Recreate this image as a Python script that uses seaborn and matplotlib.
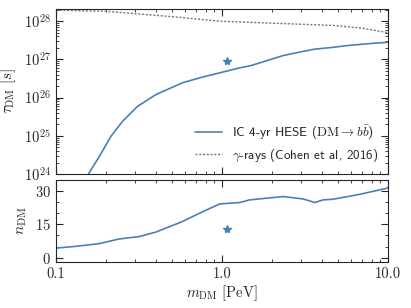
import matplotlib
matplotlib.use("Agg")
import matplotlib.pyplot as plt
import numpy as np
import pandas as pd
import seaborn as sns
from matplotlib.ticker import MultipleLocator, FixedFormatter, FixedLocator, LogLocator, NullFormatter

BLUE = "#4a80b8"
GREY = "#777777"

# IceCube 4-yr HESE lifetime limit (log10 tau / s)
mass_ic = [0.157, 0.185, 0.214, 0.252, 0.31, 0.40, 0.58, 0.766, 1.06, 1.25,
           1.5, 2.33, 3.0, 3.63, 4.5, 5.9, 7.5, 10.0]
log_tau_ic = [24.0, 24.5, 24.98, 25.38, 25.77, 26.08, 26.39, 26.54, 26.69, 26.77,
              26.84, 27.1, 27.2, 27.27, 27.31, 27.37, 27.41, 27.45]

# gamma-ray limit (Cohen et al. 2016)
mass_gamma = [0.1, 0.2, 0.5, 0.98, 2.0, 4.7, 7.0, 10.0]
log_tau_gamma = [28.29, 28.26, 28.12, 28.0, 27.95, 27.89, 27.82, 27.7]

# number of DM events
mass_n = [0.1, 0.132, 0.182, 0.24, 0.318, 0.40, 0.58, 0.766, 0.973, 1.28, 1.47,
          2.34, 3.09, 3.63, 4.07, 4.68, 6.77, 9.8, 10.0]
n_dm = [4.3, 5.1, 6.3, 8.4, 9.5, 11.5, 16.3, 20.7, 24.2, 24.8, 26.0,
        27.5, 26.4, 24.8, 26.0, 26.3, 28.5, 31.2, 31.5]

# best-fit point
star_mass = [1.07]
star_tau = [9e26]
star_n = [13.0]

sns.set_style("ticks")
plt.rcParams["font.family"] = ["cmr10", "DejaVu Serif"]
plt.rcParams["mathtext.fontset"] = "cm"
plt.rcParams["axes.formatter.use_mathtext"] = True
plt.rcParams["font.size"] = 10
plt.rcParams["axes.unicode_minus"] = False

fig = plt.figure(figsize=(4.11, 3.08), dpi=100)
ax1 = fig.add_axes([0.136, 0.435, 0.808, 0.536])
ax2 = fig.add_axes([0.136, 0.149, 0.808, 0.267])

ic = pd.DataFrame({"m": mass_ic, "tau": 10 ** np.array(log_tau_ic)})
gam = pd.DataFrame({"m": mass_gamma, "tau": 10 ** np.array(log_tau_gamma)})
nd = pd.DataFrame({"m": mass_n, "n": n_dm})

sns.lineplot(data=ic, x="m", y="tau", ax=ax1, color=BLUE, lw=1.2,
             label=r"IC 4-yr HESE ($\mathrm{DM} \rightarrow b\bar{b}$)")
sns.lineplot(data=gam, x="m", y="tau", ax=ax1, color=GREY, lw=1.0, ls=(0, (1.5, 1.2)),
             label=r"$\gamma$-rays (Cohen et al, 2016)")
ax1.plot(star_mass, star_tau, marker="*", color=BLUE, ms=6, ls="none")

sns.lineplot(data=nd, x="m", y="n", ax=ax2, color=BLUE, lw=1.2)
ax2.plot(star_mass, star_n, marker="*", color=BLUE, ms=6, ls="none")

for ax in (ax1, ax2):
    ax.set_xscale("log")
    ax.set_xlim(0.1, 10)
    ax.tick_params(which="both", direction="in", top=True, right=True)
    ax.tick_params(which="major", length=5, labelsize=10.5)
    ax.tick_params(which="minor", length=2.5)
    for s in ax.spines.values():
        s.set_linewidth(0.8)

ax1.set_yscale("log")
ax1.set_ylim(1e24, 2.1e28)
ax1.yaxis.set_major_locator(LogLocator(base=10, numticks=10))
ax1.yaxis.set_minor_locator(LogLocator(base=10, subs=np.arange(2, 10) * 0.1, numticks=20))
ax1.yaxis.set_minor_formatter(NullFormatter())
ax1.set_xticklabels([])
ax1.xaxis.set_minor_formatter(NullFormatter())
ax1.set_xlabel("")
ax1.set_ylabel(r"$\tau_{\rm DM}\ [s]$", fontsize=11)

ax2.set_ylim(-2, 35)
ax2.yaxis.set_major_locator(FixedLocator([0, 15, 30]))
ax2.yaxis.set_minor_locator(MultipleLocator(5))
ax2.xaxis.set_major_locator(FixedLocator([0.1, 1.0, 10.0]))
ax2.xaxis.set_major_formatter(FixedFormatter(["0.1", "1.0", "10.0"]))
ax2.xaxis.set_minor_formatter(NullFormatter())
ax2.set_ylabel(r"$n_{\rm DM}$", fontsize=11)
ax2.set_xlabel(r"$m_{\rm DM}$ [PeV]", fontsize=10.5, labelpad=2)

leg = ax1.legend(loc="lower right", frameon=False,
                 prop={"family": ["cmss10", "DejaVu Sans"], "size": 9.5},
                 handlelength=2.05, handletextpad=0.75,
                 borderaxespad=0.35, labelspacing=0.45)

fig.align_ylabels([ax1, ax2])
fig.savefig("out.png", dpi=100)
